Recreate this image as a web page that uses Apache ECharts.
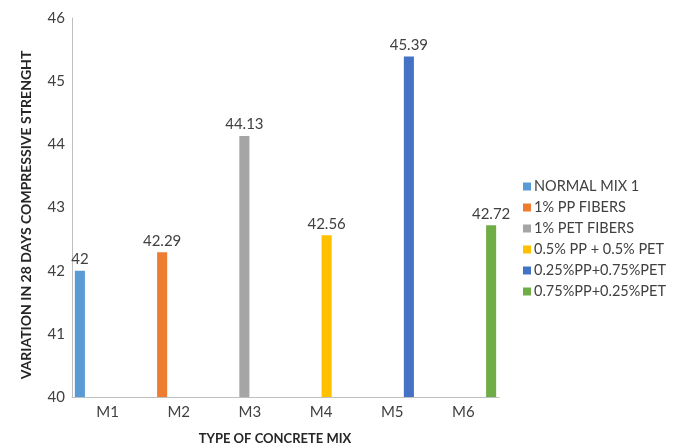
<!DOCTYPE html>
<html>
<head>
<meta charset="utf-8">
<script src="https://cdn.jsdelivr.net/npm/echarts@6/dist/echarts.min.js"></script>
<style>
  html, body { margin: 0; padding: 0; background: #fff; }
  #chart { width: 678px; height: 446px; }
</style>
</head>
<body>
<div id="chart"></div>
<script>
// Concrete mixes on the category axis
const mixes = ['M1', 'M2', 'M3', 'M4', 'M5', 'M6'];
// One series per fibre composition
const seriesNames = [
  'NORMAL MIX 1',
  '1% PP FIBERS',
  '1% PET FIBERS',
  '0.5% PP + 0.5% PET',
  '0.25%PP+0.75%PET',
  '0.75%PP+0.25%PET'
];
// 28-day compressive strength of each mix
const strength = [42, 42.29, 44.13, 42.56, 45.39, 42.72];
const colors = ['#5B9BD5', '#ED7D31', '#A5A5A5', '#FFC000', '#4472C4', '#70AD47'];
const yTicks = { min: 40, max: 46, step: 1 };

const textColor = '#404040';
const font = 'Lato, "Open Sans", sans-serif';

// each series holds a value only in its own mix column
const series = seriesNames.map((name, i) => ({
  name: name,
  type: 'bar',
  barGap: '10%',
  barCategoryGap: '8%',
  itemStyle: { color: colors[i] },
  label: {
    show: true,
    position: 'top',
    distance: 4,
    color: textColor,
    fontFamily: font,
    fontSize: 15,
    formatter: p => String(strength[i])
  },
  data: mixes.map((m, j) => (j === i ? strength[i] : null))
}));

const chart = echarts.init(document.getElementById('chart'));
chart.setOption({
  animation: false,
  textStyle: { fontFamily: font },
  grid: { left: 72, right: 179, top: 18, bottom: 49, containLabel: false },
  legend: {
    orient: 'vertical',
    left: 518,
    top: 174,
    icon: 'rect',
    itemWidth: 8,
    itemHeight: 8,
    itemGap: 6,
    textStyle: { color: textColor, fontSize: 14.5, fontFamily: font, lineHeight: 15, padding: [0, 0, 0, -2] },
    data: seriesNames
  },
  xAxis: {
    type: 'category',
    data: mixes,
    axisLine: { show: true, lineStyle: { color: '#bfbfbf', width: 1 } },
    axisTick: { show: false },
    axisLabel: { color: textColor, fontSize: 15, margin: 8, fontFamily: font }
  },
  yAxis: {
    type: 'value',
    min: yTicks.min,
    max: yTicks.max,
    interval: yTicks.step,
    splitLine: { show: false },
    axisLine: { show: true, lineStyle: { color: '#bfbfbf', width: 1 } },
    axisTick: { show: false },
    axisLabel: { color: textColor, fontSize: 15, margin: 7, fontFamily: font }
  },
  graphic: [
    {
      type: 'text',
      x: 26, y: 215,
      rotation: Math.PI / 2,
      style: {
        text: 'VARIATION IN 28 DAYS COMPRESSIVE STRENGHT',
        fill: '#262626',
        font: 'bold 14px ' + font,
        align: 'center',
        verticalAlign: 'middle'
      }
    },
    {
      type: 'text',
      x: 275, y: 439,
      style: {
        text: 'TYPE OF CONCRETE MIX',
        fill: '#262626',
        font: 'bold 13px ' + font,
        align: 'center',
        verticalAlign: 'middle'
      }
    }
  ],
  series: series
});
</script>
</body>
</html>
